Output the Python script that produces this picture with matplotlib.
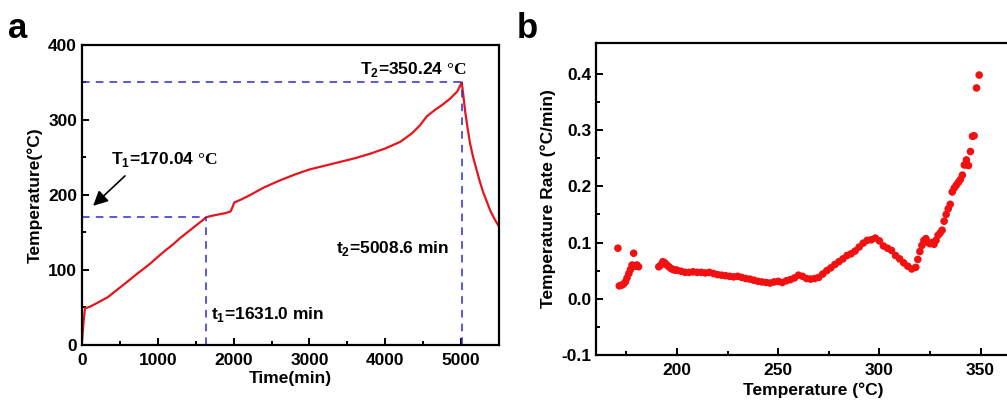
import numpy as np
import matplotlib
matplotlib.use('Agg')
import matplotlib.pyplot as plt

plt.rcParams['font.family'] = 'Liberation Sans'
plt.rcParams['font.weight'] = 'bold'
plt.rcParams['mathtext.fontset'] = 'custom'
plt.rcParams['mathtext.rm'] = 'Liberation Sans:bold'
plt.rcParams['mathtext.sf'] = 'Liberation Serif'

# panel a: temperature history
time_a = [0, 20, 40, 105, 200, 345, 400, 500, 600, 740, 800, 900, 1000, 1100, 1200,
          1300, 1400, 1500, 1600, 1631, 1700, 1800, 1900, 1960, 1990, 2010, 2100, 2200,
          2400, 2600, 2800, 3000, 3200, 3400, 3600, 3800, 4000, 4200, 4350, 4450, 4550,
          4650, 4750, 4850, 4950, 5008.6, 5030, 5052, 5085, 5118, 5160, 5206, 5250, 5294,
          5340, 5382, 5430, 5470, 5500]
temp_a = [4, 30, 49, 51, 56, 64, 68.5, 76.5, 84.5, 96, 100.5, 108.5, 117.5, 126, 134,
          143, 151, 159, 167, 170, 172, 174, 176, 178, 185, 190, 194, 199,
          210, 219, 227, 234, 239, 244, 249, 255, 262, 271, 282, 292, 305,
          313, 320, 328, 338, 350.24, 333, 313, 290, 269, 250, 233, 217, 203,
          191, 180, 170, 163, 158]

t1, T1 = 1631.0, 170.04
t2, T2 = 5008.6, 350.24

# panel b: heating rate vs temperature
temp_b = [170.8, 171.5, 172.5, 173.5, 174.5, 175.3, 176.2, 177.0, 177.8, 178.6, 179.2, 180.2, 181.0,
          191, 192, 193, 194, 195, 196, 197, 198, 199,
          200, 202, 204, 206, 208, 210, 212, 214, 216, 218,
          220, 222, 224, 226, 228, 230, 232, 234, 236, 238,
          240, 242, 244, 246, 248, 250, 252, 254, 256, 258,
          260, 262, 264, 266, 268, 270, 272, 274, 276, 278,
          280, 282, 284, 286, 288, 290, 292, 294, 296, 298,
          300, 302, 304, 306, 308, 310, 312, 314, 316, 318,
          319, 320, 321, 322, 323, 324, 325, 326, 327, 328,
          329, 330, 331, 332, 333, 334, 335, 336, 337, 338,
          339, 340, 341, 342, 343, 344, 345, 346, 346.8, 348, 349.3]
rate_b = [0.090, 0.023, 0.024, 0.026, 0.030, 0.037, 0.045, 0.052, 0.060, 0.081, 0.058, 0.060, 0.057,
          0.057, 0.060, 0.066, 0.064, 0.060, 0.057, 0.054, 0.052, 0.051,
          0.051, 0.049, 0.047, 0.047, 0.048, 0.047, 0.047, 0.046, 0.047, 0.045,
          0.043, 0.042, 0.041, 0.040, 0.039, 0.040, 0.038, 0.036, 0.035, 0.033,
          0.031, 0.030, 0.029, 0.028, 0.030, 0.031, 0.029, 0.032, 0.034, 0.037,
          0.042, 0.040, 0.036, 0.035, 0.036, 0.038, 0.044, 0.050, 0.055, 0.061,
          0.066, 0.071, 0.077, 0.080, 0.085, 0.092, 0.099, 0.104, 0.105, 0.108,
          0.103, 0.094, 0.090, 0.086, 0.077, 0.071, 0.064, 0.058, 0.053, 0.056,
          0.070, 0.084, 0.095, 0.104, 0.107, 0.100, 0.098, 0.100, 0.097, 0.104,
          0.113, 0.117, 0.122, 0.138, 0.150, 0.160, 0.168, 0.190, 0.197, 0.202,
          0.207, 0.212, 0.220, 0.238, 0.247, 0.237, 0.262, 0.289, 0.290, 0.375, 0.398]

fig = plt.figure(figsize=(10.07, 4.01), dpi=100)
ax1 = fig.add_axes([0.0814, 0.1397, 0.4141, 0.7481])
ax2 = fig.add_axes([0.5919, 0.1147, 0.4321, 0.7781])

for ax in (ax1, ax2):
    for s in ax.spines.values():
        s.set_linewidth(1.6)
    ax.tick_params(which='both', direction='in', width=1.4, labelsize=12.5)
    ax.tick_params(which='major', length=5)
    ax.tick_params(which='minor', length=3)
    ax.tick_params(axis='x', pad=6)

# --- a ---
ax1.plot(time_a, temp_a, color='#e8141c', lw=1.6)
dash = dict(color='#2b2bd6', ls=(0, (5, 4)), lw=1.1)
ax1.plot([0, t2], [T2, T2], **dash)
ax1.plot([t2, t2], [0, T2], **dash)
ax1.plot([0, t1], [T1, T1], **dash)
ax1.plot([t1, t1], [0, T1], **dash)
ax1.set_xlim(0, 5500)
ax1.set_ylim(0, 400)
ax1.set_xticks([0, 1000, 2000, 3000, 4000, 5000])
ax1.set_xticks([500, 1500, 2500, 3500, 4500], minor=True)
ax1.set_yticks([0, 100, 200, 300, 400])
ax1.set_yticks([50, 150, 250, 350], minor=True)
ax1.set_xlabel('Time(min)', fontsize=12.5, fontweight='bold', labelpad=2)
ax1.set_ylabel('Temperature(°C)', fontsize=12.5, fontweight='bold', labelpad=4)

ax1.text(4367, 367, r'T$_2$=350.24 $\mathsf{°C}$', ha='center', va='center', fontsize=12.5)
ax1.text(1080, 247, r'T$_1$=170.04 $\mathsf{°C}$', ha='center', va='center', fontsize=12.5)
ax1.text(4090, 129, r't$_2$=5008.6 min', ha='center', va='center', fontsize=12.5)
ax1.text(2454, 40, r't$_1$=1631.0 min', ha='center', va='center', fontsize=12.5)
ax1.annotate('', xy=(120, 183), xytext=(594, 228),
             arrowprops=dict(arrowstyle='-|>', color='black', lw=1.2,
                             mutation_scale=22))
fig.text(0.008, 0.905, 'a', fontsize=25, fontweight='bold')

# --- b ---
ax2.scatter(temp_b, rate_b, s=30, color='#f21010', edgecolors='none', zorder=3)
ax2.set_xlim(160, 375)
ax2.set_ylim(-0.1, 0.455)
ax2.set_xticks([200, 250, 300, 350])
ax2.set_xticks([175, 225, 275, 325], minor=True)
ax2.set_yticks([-0.1, 0.0, 0.1, 0.2, 0.3, 0.4])
ax2.set_yticks([-0.05, 0.05, 0.15, 0.25, 0.35], minor=True)
ax2.yaxis.set_major_formatter(plt.FuncFormatter(lambda v, p: '%.1f' % v))
ax2.set_xlabel('Temperature (°C)', fontsize=12.5, fontweight='bold', labelpad=3)
ax2.set_ylabel('Temperature Rate (°C/min)', fontsize=12.5, fontweight='bold', labelpad=4)
fig.text(0.513, 0.905, 'b', fontsize=25, fontweight='bold')

fig.savefig('out.png', dpi=100)
